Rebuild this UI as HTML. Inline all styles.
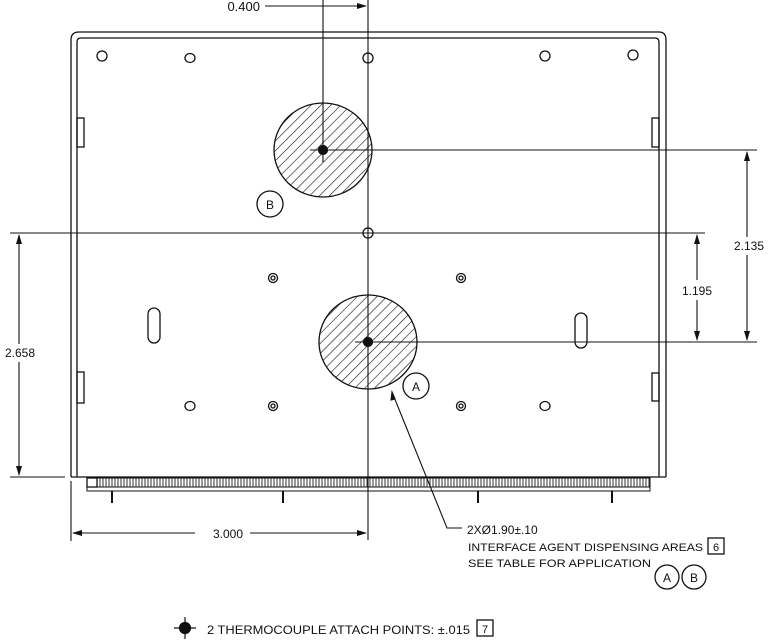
<!DOCTYPE html>
<html><head><meta charset="utf-8"><style>
html,body{margin:0;padding:0;background:#fff;}
svg{display:block;}
text{font-family:"Liberation Sans",sans-serif;fill:#111;}
</style></head><body>
<svg width="769" height="640" viewBox="0 0 769 640" xmlns="http://www.w3.org/2000/svg">
<defs>
<pattern id="h" patternUnits="userSpaceOnUse" width="7" height="7" patternTransform="rotate(45)">
<rect width="7" height="7" fill="#fff"/>
<line x1="0" y1="0" x2="0" y2="7" stroke="#111" stroke-width="1.2"/>
</pattern>
<pattern id="v" patternUnits="userSpaceOnUse" width="3" height="9">
<rect width="3" height="9" fill="#fff"/>
<line x1="1" y1="0" x2="1" y2="9" stroke="#333" stroke-width="1"/>
</pattern>
<marker id="ar" markerWidth="10" markerHeight="6" refX="9" refY="3" orient="auto" markerUnits="userSpaceOnUse">
<path d="M0,0 L10,3 L0,6 Z" fill="#111"/>
</marker>
</defs>
<g fill="none" stroke="#111" stroke-width="1.3">
<path d="M71,477 L71,40 Q71,32 79,32 L659,32 Q666,32 666,40 L666,477"/>
<path d="M77,477 L77,42 Q77,38 81,38 L655,38 Q659,38 659,42 L659,477"/>
<line x1="71" y1="477" x2="666" y2="477"/>
<rect x="77" y="118" width="7" height="29"/>
<rect x="77" y="372" width="7" height="31"/>
<rect x="652" y="118" width="7" height="29"/>
<rect x="652" y="373" width="7" height="28"/>
<rect x="87" y="478" width="563" height="9" fill="url(#v)" stroke-width="1"/>
<rect x="87" y="487" width="563" height="4" stroke-width="1"/>
<rect x="87" y="478" width="10" height="9" fill="#fff"/>
<line x1="112" y1="491" x2="112" y2="503" stroke-width="2"/>
<line x1="283" y1="491" x2="283" y2="503" stroke-width="2"/>
<line x1="478" y1="491" x2="478" y2="503" stroke-width="2"/>
<line x1="612" y1="491" x2="612" y2="503" stroke-width="2"/>
<ellipse cx="102" cy="56" rx="5" ry="5"/>
<ellipse cx="190" cy="58" rx="5" ry="4.5"/>
<ellipse cx="368" cy="58" rx="5" ry="5"/>
<ellipse cx="545" cy="56" rx="5" ry="5"/>
<ellipse cx="633" cy="55" rx="5" ry="5"/>
<ellipse cx="368" cy="233" rx="5" ry="5"/>
<ellipse cx="190" cy="406" rx="5" ry="4.5"/>
<ellipse cx="545" cy="406" rx="5" ry="4.5"/>
<circle cx="273" cy="278" r="4.5"/><circle cx="273" cy="278" r="2"/>
<circle cx="461" cy="278" r="4.5"/><circle cx="461" cy="278" r="2"/>
<circle cx="273" cy="406" r="4.5"/><circle cx="273" cy="406" r="2"/>
<circle cx="461" cy="406" r="4.5"/><circle cx="461" cy="406" r="2"/>
<rect x="148" y="308" width="12" height="35" rx="6"/>
<rect x="575" y="313" width="12" height="35" rx="6"/>
<ellipse cx="323" cy="150" rx="49" ry="47" fill="url(#h)"/>
<ellipse cx="368" cy="342" rx="49" ry="47" fill="url(#h)"/>
<circle cx="270" cy="204" r="13"/>
<circle cx="416" cy="386" r="13"/>
<circle cx="667" cy="577" r="12"/>
<circle cx="694" cy="577" r="12"/>
<rect x="708" y="538" width="16" height="16"/>
<rect x="477" y="620" width="16" height="16"/>
</g>
<g fill="none" stroke="#111" stroke-width="1.1">
<line x1="368" y1="0" x2="368" y2="540"/>
<line x1="323" y1="0" x2="323" y2="162"/>
<line x1="265" y1="6" x2="323" y2="6"/>
<line x1="323" y1="6" x2="366" y2="6" marker-end="url(#ar)"/>
<line x1="310" y1="150" x2="757" y2="150"/>
<line x1="355" y1="342" x2="757" y2="342"/>
<line x1="10" y1="233" x2="705" y2="233"/>
<line x1="10" y1="477" x2="65" y2="477"/>
<line x1="747" y1="238" x2="747" y2="152" marker-end="url(#ar)"/>
<line x1="747" y1="255" x2="747" y2="340" marker-end="url(#ar)"/>
<line x1="697" y1="280" x2="697" y2="235" marker-end="url(#ar)"/>
<line x1="697" y1="300" x2="697" y2="340" marker-end="url(#ar)"/>
<line x1="19" y1="344" x2="19" y2="235" marker-end="url(#ar)"/>
<line x1="19" y1="362" x2="19" y2="475" marker-end="url(#ar)"/>
<line x1="71" y1="481" x2="71" y2="541"/>
<line x1="195" y1="533" x2="73" y2="533" marker-end="url(#ar)"/>
<line x1="250" y1="533" x2="366" y2="533" marker-end="url(#ar)"/>
<path d="M462,528 L447,528 L392,392" />
<path d="M392,392 l-1,8 l4,-1 z" fill="#111"/>
</g>
<g stroke="#111" stroke-width="1.2">
<circle cx="323" cy="150" r="4.5" fill="#111"/>
<circle cx="368" cy="342" r="4.5" fill="#111"/>
<line x1="174" y1="628" x2="196" y2="628"/>
<line x1="185" y1="617" x2="185" y2="639"/>
<circle cx="185" cy="628" r="5.5" fill="#111"/>
</g>
<g font-size="12">
<text x="260" y="11" text-anchor="end" font-size="13">0.400</text>
<rect x="730" y="237" width="36" height="16" fill="#fff"/>
<text x="749" y="250" text-anchor="middle">2.135</text>
<text x="697" y="295" text-anchor="middle">1.195</text>
<rect x="0" y="345" width="40" height="16" fill="#fff"/>
<text x="20" y="357" text-anchor="middle">2.658</text>
<text x="228" y="538" text-anchor="middle">3.000</text>
<text x="270" y="209" text-anchor="middle">B</text>
<text x="416" y="391" text-anchor="middle">A</text>
<text x="667" y="582" text-anchor="middle">A</text>
<text x="694" y="582" text-anchor="middle">B</text>
<text x="716" y="551" text-anchor="middle" font-size="11">6</text>
<text x="485" y="633" text-anchor="middle" font-size="11">7</text>
<text x="467" y="534" font-size="12">2XØ1.90±.10</text>
<text x="468" y="551" font-size="11" textLength="235" lengthAdjust="spacingAndGlyphs">INTERFACE AGENT DISPENSING AREAS</text>
<text x="468" y="567" font-size="11" textLength="183" lengthAdjust="spacingAndGlyphs">SEE TABLE FOR APPLICATION</text>
<text x="207" y="634" font-size="12" textLength="263" lengthAdjust="spacingAndGlyphs">2 THERMOCOUPLE ATTACH POINTS: ±.015</text>
</g>
</svg>
</body></html>
